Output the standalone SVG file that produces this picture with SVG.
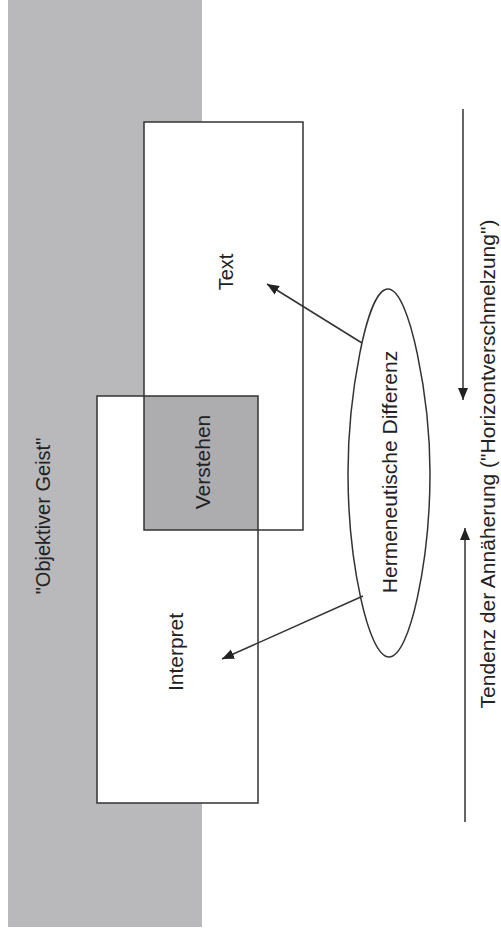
<svg xmlns="http://www.w3.org/2000/svg" width="501" height="933" viewBox="0 0 501 933">
  <defs>
    <style>
      .lbl { font-family: "Liberation Sans", Arial, sans-serif; fill: #222; text-anchor: middle; }
      .box { fill: none; stroke: #333; stroke-width: 1.5; }
      .conn { stroke: #333; stroke-width: 1.5; fill: none; }
    </style>
    <marker id="ah" markerUnits="userSpaceOnUse" markerWidth="14" markerHeight="12" refX="12" refY="5" orient="auto">
      <path d="M0,0 L12,5 L0,10 Z" fill="#222"/>
    </marker>
  </defs>
  <rect width="501" height="933" fill="#ffffff"/>

  <g id="objektiver-geist">
    <rect x="8" y="0" width="194" height="927" fill="#b9b9bc"/>
    <text class="lbl" font-size="20" transform="translate(50,516) rotate(-90)">"Objektiver Geist"</text>
  </g>

  <g id="text-node">
    <rect x="144" y="122" width="159" height="408" fill="#ffffff"/>
  </g>

  <g id="interpret-node">
    <rect x="97" y="396" width="161" height="407" fill="#ffffff"/>
  </g>

  <g id="verstehen-node">
    <rect x="144" y="396" width="114" height="134" fill="#adadb0"/>
  </g>

  <g id="outlines">
    <rect class="box" x="144" y="122" width="159" height="408"/>
    <rect class="box" x="97" y="396" width="161" height="407"/>
  </g>

  <g id="labels">
    <text class="lbl" font-size="20" transform="translate(233,272) rotate(-90)">Text</text>
    <text class="lbl" font-size="21" transform="translate(210,462) rotate(-90)">Verstehen</text>
    <text class="lbl" font-size="21" transform="translate(183,652) rotate(-90)">Interpret</text>
  </g>

  <g id="hermeneutische-differenz">
    <path d="M388,289 C410,289 430,400 430,473 C430,560 410,657 389,657 C368,657 348,560 348,473 C348,400 366,289 388,289 Z" fill="none" stroke="#333" stroke-width="1.5"/>
    <text class="lbl" font-size="21" transform="translate(397,472) rotate(-90)">Hermeneutische Differenz</text>
  </g>

  <g id="tendenz">
    <text class="lbl" font-size="21" transform="translate(495,464) rotate(-90)">Tendenz der Annäherung ("Horizontverschmelzung")</text>
  </g>

  <g id="connectors">
    <line class="conn" x1="362" y1="343" x2="267" y2="284" marker-end="url(#ah)"/>
    <line class="conn" x1="363" y1="596" x2="222" y2="659" marker-end="url(#ah)"/>
    <line class="conn" x1="463" y1="109" x2="463" y2="400" marker-end="url(#ah)"/>
    <line class="conn" x1="465" y1="822" x2="465" y2="528" marker-end="url(#ah)"/>
  </g>
</svg>
